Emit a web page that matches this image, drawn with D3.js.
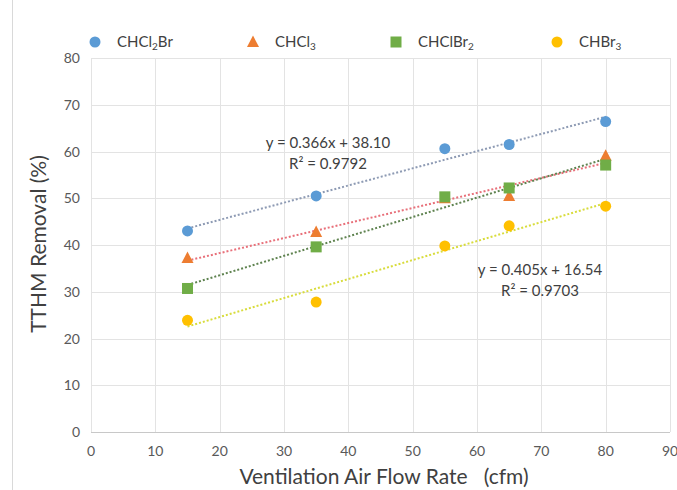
<!DOCTYPE html>
<html>
<head>
<meta charset="utf-8">
<script src="https://cdn.jsdelivr.net/npm/d3@7"></script>
<style>
  body { margin: 0; background: #fff; }
  svg { font-family: Lato, "Open Sans", sans-serif; }
</style>
</head>
<body>
<svg id="chart" width="677" height="490"></svg>
<script>
// data
var flowRates = [15, 35, 55, 65, 80];
var chcl2br = [43.0, 50.5, 60.6, 61.5, 66.4];
var chcl3 = [37.2, 42.8, 50.0, 50.5, 59.1];
var chclbr2 = [30.7, 39.6, 50.3, 52.2, 57.1];
var chbr3 = [23.9, 27.8, 39.8, 44.1, 48.3];
var xTicks = [0, 10, 20, 30, 40, 50, 60, 70, 80, 90];
var yTicks = [0, 10, 20, 30, 40, 50, 60, 70, 80];
var eqBlue = ["y = 0.366x + 38.10", "R² = 0.9792"];
var eqYellow = ["y = 0.405x + 16.54", "R² = 0.9703"];

var series = [
    { name: ["CHCl", "2", "Br"], values: chcl2br, color: "#5b9bd5", trend: "#8e9bb4", shape: "circle", legendX: 95 },
    { name: ["CHCl", "3", ""], values: chcl3, color: "#ed7d31", trend: "#e8707a", shape: "triangle", legendX: 253 },
    { name: ["CHClBr", "2", ""], values: chclbr2, color: "#70ad47", trend: "#5f8350", shape: "square", legendX: 396 },
    { name: ["CHBr", "3", ""], values: chbr3, color: "#ffc000", trend: "#d8dc3c", shape: "circle", legendX: 557 }
];

var svg = d3.select("#chart");
var x = d3.scaleLinear().domain([0, 90]).range([91, 670]);
var y = d3.scaleLinear().domain([0, 80]).range([432, 58]);

// outer chart border (left edge only visible)
svg.append("line").attr("x1", 12.5).attr("x2", 12.5).attr("y1", 0).attr("y2", 490)
    .attr("stroke", "#d9d9d9");

// grid
svg.append("g").selectAll("line").data(yTicks.slice(1)).enter().append("line")
    .attr("x1", x(0)).attr("x2", x(90))
    .attr("y1", function (d) { return Math.round(y(d)) + 0.5; })
    .attr("y2", function (d) { return Math.round(y(d)) + 0.5; })
    .attr("stroke", "#e3e3e3");
svg.append("g").selectAll("line").data(xTicks).enter().append("line")
    .attr("y1", y(0)).attr("y2", y(80))
    .attr("x1", function (d) { return Math.round(x(d)) + 0.5; })
    .attr("x2", function (d) { return Math.round(x(d)) + 0.5; })
    .attr("stroke", "#e3e3e3");
svg.append("line").attr("x1", x(0)).attr("x2", x(90))
    .attr("y1", Math.round(y(0)) + 0.5).attr("y2", Math.round(y(0)) + 0.5)
    .attr("stroke", "#c8c8c8");

// tick labels
svg.append("g").selectAll("text").data(yTicks).enter().append("text")
    .attr("x", 80).attr("y", function (d) { return y(d) + 5; })
    .attr("text-anchor", "end").attr("font-size", 14).attr("fill", "#595959")
    .text(function (d) { return d; });
svg.append("g").selectAll("text").data(xTicks).enter().append("text")
    .attr("x", function (d) { return x(d); }).attr("y", 456)
    .attr("text-anchor", "middle").attr("font-size", 14).attr("fill", "#595959")
    .text(function (d) { return d; });

// axis titles
svg.append("text").attr("x", 384).attr("y", 484).attr("text-anchor", "middle")
    .attr("font-size", 21).attr("fill", "#404040").attr("xml:space", "preserve")
    .text("Ventilation Air Flow Rate   (cfm)");
svg.append("text").attr("transform", "translate(46,244) rotate(-90)")
    .attr("text-anchor", "middle").attr("font-size", 21).attr("fill", "#404040")
    .text("TTHM Removal (%)");

// least squares trend lines
function fit(xs, ys) {
    var mx = d3.mean(xs), my = d3.mean(ys);
    var sxy = d3.sum(xs, function (v, i) { return (v - mx) * (ys[i] - my); });
    var sxx = d3.sum(xs, function (v) { return (v - mx) * (v - mx); });
    var b = sxy / sxx;
    return { slope: b, intercept: my - b * mx };
}
var xMin = d3.min(flowRates), xMax = d3.max(flowRates);
series.forEach(function (s) {
    var f = fit(flowRates, s.values);
    svg.append("line")
        .attr("x1", x(xMin)).attr("y1", y(f.intercept + f.slope * xMin))
        .attr("x2", x(xMax)).attr("y2", y(f.intercept + f.slope * xMax))
        .attr("stroke", s.trend).attr("stroke-width", 2)
        .attr("stroke-dasharray", "2,2");
});

function drawMarker(g, shape, cx, cy, color) {
    if (shape === "circle") {
        g.append("circle").attr("cx", cx).attr("cy", cy).attr("r", 5.5).attr("fill", color);
    } else if (shape === "square") {
        g.append("rect").attr("x", cx - 5.5).attr("y", cy - 5.5).attr("width", 11).attr("height", 11).attr("fill", color);
    } else {
        g.append("path").attr("d", "M" + cx + "," + (cy - 6.5) + "L" + (cx + 6) + "," + (cy + 5) + "L" + (cx - 6) + "," + (cy + 5) + "Z")
            .attr("fill", color);
    }
}

// markers
series.forEach(function (s) {
    var g = svg.append("g");
    s.values.forEach(function (v, i) {
        drawMarker(g, s.shape, x(flowRates[i]), y(v), s.color);
    });
});

// equations
function equation(lines, cx, cy) {
    lines.forEach(function (t, i) {
        svg.append("text").attr("x", cx).attr("y", cy + i * 21)
            .attr("text-anchor", "middle").attr("font-size", 15).attr("fill", "#404040")
            .text(t);
    });
}
equation(eqBlue, 328, 148);
equation(eqYellow, 540, 275);

// legend
series.forEach(function (s) {
    var g = svg.append("g");
    drawMarker(g, s.shape, s.legendX, 42, s.color);
    var t = g.append("text").attr("x", s.legendX + 22).attr("y", 47)
        .attr("font-size", 15).attr("fill", "#404040");
    t.append("tspan").text(s.name[0]);
    t.append("tspan").attr("dy", 3).attr("font-size", 10).text(s.name[1]);
    if (s.name[2]) t.append("tspan").attr("dy", -3).text(s.name[2]);
});
</script>
</body>
</html>
